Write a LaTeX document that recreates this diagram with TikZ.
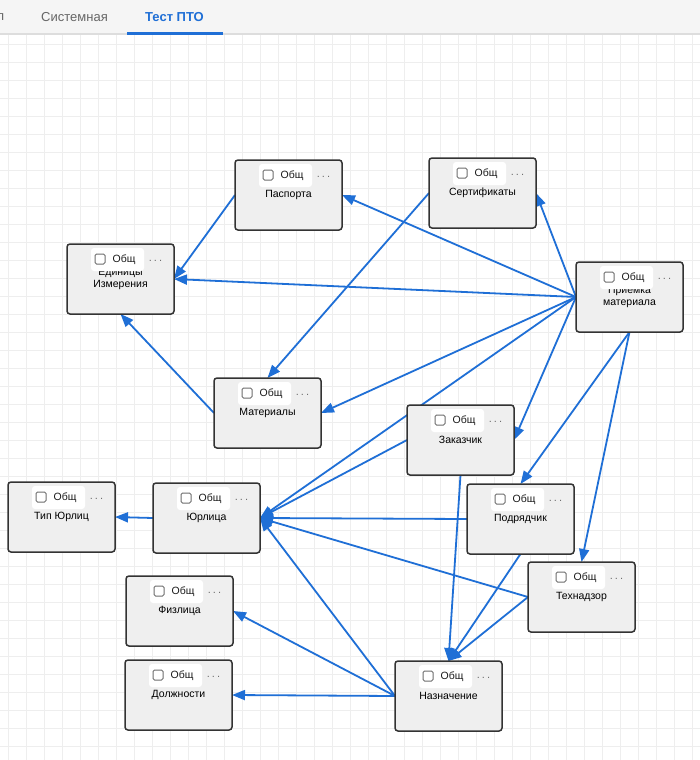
\documentclass[tikz,border=0pt]{standalone}
\usepackage{fontspec}
\setmainfont{Liberation Sans}
\usetikzlibrary{arrows.meta,calc}
\pgfdeclarelayer{bg}
\pgfdeclarelayer{edges}
\pgfsetlayers{bg,edges,main}
\definecolor{edgeblue}{HTML}{1F6FD6}
\definecolor{boxborder}{HTML}{333333}
\definecolor{boxfill}{HTML}{EFEFEF}
\definecolor{gridcol}{HTML}{EEEEEE}
\definecolor{headbg}{HTML}{F5F5F5}
\definecolor{headline}{HTML}{DDDDDD}
\definecolor{tabgray}{HTML}{666666}
\definecolor{chkgray}{HTML}{6E6E6E}
\tikzset{
  entbox/.style={anchor=north west, draw=boxborder, fill=boxfill, line width=1.5pt,
    rounded corners=3pt, minimum width=107pt, minimum height=70pt, inner sep=0pt, outer sep=0pt},
  enttitle/.style={font=\fontsize{10.5}{12.5}\selectfont, align=center, inner sep=0pt, text=black},
  obsh/.style={font=\fontsize{10.5}{12}\selectfont, anchor=west, inner sep=0pt, text=black!90},
  dotstyle/.style={font=\fontsize{11}{12}\selectfont, inner sep=0pt, text=chkgray},
  chk/.style={draw=chkgray, fill=white, line width=1pt, rounded corners=1.5pt},
  edge/.style={draw=edgeblue, line width=1.8pt, -{Triangle[length=13pt,width=10pt]}},
  gridline/.style={draw=gridcol, line width=0.6pt},
  tabtxt/.style={font=\fontsize{13}{15}\selectfont, text=tabgray, inner sep=0pt},
  tabsel/.style={font=\fontsize{13}{15}\selectfont\bfseries, text=edgeblue, inner sep=0pt}
}
\newcommand\ent[4]{%
  \node[entbox] (#1) at (#2,#3) {};
  \node[enttitle] (#1-t) at ($(#1.north west)+(53.5,35)$) {#4};
  \fill[white, rounded corners=3pt] ($(#1.north west)+(24,4)$) rectangle ($(#1.north west)+(77,27)$);
  \draw[chk] ($(#1.north west)+(28,10)$) rectangle ($(#1.north west)+(38,20)$);
  \node[obsh] (#1-o) at ($(#1.north west)+(45.5,15.5)$) {Общ};
  \node[dotstyle] (#1-d) at ($(#1.north west)+(88.5,16.5)$) {.\kern2pt.\kern2pt.};
}
\begin{document}
\begin{tikzpicture}[x=1pt,y=-1pt]
\useasboundingbox (0,0) rectangle (700,760);
\begin{pgfonlayer}{bg}
  \fill[white] (0,0) rectangle (700,760);
  \foreach \i in {0,...,38} \draw[gridline] (8.3+18*\i,35) -- (8.3+18*\i,760);
  \foreach \j in {0,...,40} \draw[gridline] (0,44.3+18*\j) -- (700,44.3+18*\j);
  \fill[headbg] (0,0) rectangle (700,33);
  \fill[headline] (0,33) rectangle (700,35);
  \fill[edgeblue] (127,32) rectangle (223,35);
\end{pgfonlayer}
\begin{scope}
  \clip (0,0) rectangle (5,33);
  \node[tabtxt, anchor=east] (t0) at (4.5,17) {л};
\end{scope}
\node[tabtxt] (t1) at (74.5,17) {Системная};
\node[tabsel] (t2) at (174.5,17) {Тест ПТО};

\ent{pasp}{235}{160}{Паспорта}
\ent{sert}{429}{158}{Сертификаты}
\ent{ed}{67}{244}{Единицы\\Измерения}
\ent{pm}{576}{262}{Приемка\\материала}
\ent{mat}{214}{378}{Материалы}
\ent{zak}{407}{405}{Заказчик}
\ent{podr}{467}{484}{Подрядчик}
\ent{tip}{8}{482}{Тип Юрлиц}
\ent{jur}{153}{483}{Юрлица}
\ent{tech}{528}{562}{Технадзор}
\ent{fiz}{126}{576}{Физлица}
\ent{dolzh}{125}{660}{Должности}
\ent{naz}{395}{661}{Назначение}

\begin{pgfonlayer}{edges}
  \draw[edge] (pasp.west) -- (ed.east);
  \draw[edge] (pm.west) -- (ed.east);
  \draw[edge] (pm.west) -- (pasp.east);
  \draw[edge] (pm.west) -- (sert.east);
  \draw[edge] (sert.west) -- (mat.north);
  \draw[edge] (mat.west) -- (ed.south);
  \draw[edge] (pm.west) -- (mat.east);
  \draw[edge] (pm.west) -- (zak.east);
  \draw[edge] (pm.south) -- (podr.north);
  \draw[edge] (pm.south) -- (tech.north);
  \draw[edge] (pm.west) -- (jur.east);
  \draw[edge] (zak.west) -- (jur.east);
  \draw[edge] (podr.west) -- (jur.east);
  \draw[edge] (tech.west) -- (jur.east);
  \draw[edge] (naz.west) -- (jur.east);
  \draw[edge] (naz.west) -- (fiz.east);
  \draw[edge] (naz.west) -- (dolzh.east);
  \draw[edge] (zak.south) -- (naz.north);
  \draw[edge] (podr.south) -- (naz.north);
  \draw[edge] (tech.west) -- (naz.north);
  \draw[edge] (jur.west) -- (tip.east);
\end{pgfonlayer}
\end{tikzpicture}
\end{document}
